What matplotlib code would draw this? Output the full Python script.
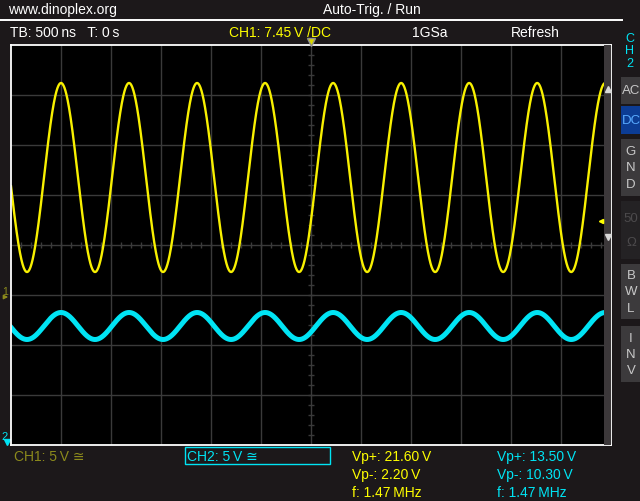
import numpy as np
import matplotlib.pyplot as plt
from matplotlib.patches import Rectangle

plt.rcParams['font.family'] = ['Liberation Sans', 'DejaVu Sans']

W, H = 640, 502
BG = '#1c181a'
YEL = '#ffff00'
CYAN = '#00e4f4'
OLIVE = '#8c8a1c'
GRIDC = '#3a3a3a'

# scope settings
time_per_div = 500e-9
volts_per_div = [5.0, 5.0]
n_xdiv, n_ydiv = 12, 8
trig_level = 7.45
ch_ground = [-1.0, -4.0]      # ground marker position, divisions

# signal shape estimated from the traces
freq = 1.47e6
ch_mean = [11.75, 11.9]
ch_amp = [9.45, 1.35]

header_left = 'www.dinoplex.org'
header_mid = 'Auto-Trig. / Run'
status = ['TB: 500\u2009ns   T: 0\u2009s', 'CH1: 7.45\u2009V /DC', '1GSa', 'Refresh']
status_x = [10, 229, 412, 511]
ch_labels = ['CH1: 5\u2009V \u2245', 'CH2: 5\u2009V \u2245']
ch1_meas = ['Vp+: 21.60\u2009V', 'Vp-: 2.20\u2009V', 'f: 1.47\u2009MHz']
ch2_meas = ['Vp+: 13.50\u2009V', 'Vp-: 10.30\u2009V', 'f: 1.47\u2009MHz']
buttons = [['A C'], ['D C'], ['G', 'N', 'D'], ['50', '\u03a9'], ['B', 'W', 'L'], ['I', 'N', 'V']]
button_y = [(78, 105), (107, 135), (140, 197), (202, 260), (265, 320), (327, 383)]

fig = plt.figure(figsize=(W / 100, H / 100), dpi=100)
fig.patch.set_facecolor(BG)

# pixel-coordinate layer for the frame texts
bg = fig.add_axes([0, 0, 1, 1])
bg.set_xlim(0, W)
bg.set_ylim(H, 0)
bg.axis('off')
bg.set_zorder(0)

bg.text(8, 14, header_left, color='white', fontsize=10, va='baseline')
bg.text(372, 14, header_mid, color='white', fontsize=10, va='baseline', ha='center')
bg.plot([0, 622], [20.5, 20.5], color='white', lw=1.4)
for s, x0 in zip(status, status_x):
    col = YEL if s.startswith('CH1') else 'white'
    bg.text(x0, 37, s, color=col, fontsize=10, va='baseline')

# CH2 side panel
for i, ch in enumerate('CH2'):
    bg.text(630, 42 + 12.5 * i, ch, color=CYAN, fontsize=9, ha='center', va='baseline')
for lab, (y0, y1) in zip(buttons, button_y):
    name = ''.join(lab).replace(' ', '')
    if name == 'DC':
        fc, tc = '#0c3c94', '#58aaff'
    elif name == '50\u03a9':
        fc, tc = '#242224', '#4c4a4c'
    else:
        fc, tc = '#3c3a3c', '#c8c8c8'
    bg.add_patch(Rectangle((621, y0), 19, y1 - y0, facecolor=fc, edgecolor='none'))
    n = len(lab)
    step = (y1 - y0) / (n + 0.4)
    for k, t in enumerate(lab):
        yc = y0 + step * (k + 0.7)
        bg.text(631, yc, t.replace(' ', ''), color=tc, fontsize=9.5, ha='center', va='center')

# channel markers on the left
bg.text(2, 295, '1', color=OLIVE, fontsize=7.5, va='baseline')
bg.annotate('', xy=(11, 298), xytext=(1, 298),
            arrowprops=dict(arrowstyle='-|>', color=OLIVE, lw=1, mutation_scale=6))
bg.text(1, 440, '2', color=CYAN, fontsize=8, va='baseline')
bg.plot([7], [443], marker='v', color=CYAN, ms=4)

# bottom info area
bg.text(14, 461, ch_labels[0], color=OLIVE, fontsize=10, va='baseline')
bg.add_patch(Rectangle((184.5, 447.5), 145, 17, facecolor='none', edgecolor=CYAN, lw=1))
bg.text(187, 461, ch_labels[1], color=CYAN, fontsize=10, va='baseline')
for k, (a, b) in enumerate(zip(ch1_meas, ch2_meas)):
    yb = 461 + 18 * k
    bg.text(352, yb, a, color=YEL, fontsize=10, va='baseline')
    bg.text(497, yb, b, color=CYAN, fontsize=10, va='baseline')

# the scope screen
ax = fig.add_axes([11 / W, (H - 446) / H, 600 / W, 400 / H])
ax.set_zorder(1)
ax.set_facecolor('black')
ax.set_xlim(0, n_xdiv)
ax.set_ylim(-n_ydiv / 2, n_ydiv / 2)
ax.set_xticks([])
ax.set_yticks([])
for sp in ax.spines.values():
    sp.set_color('white')
    sp.set_linewidth(1.3)

for i in range(1, n_xdiv):
    ax.axvline(i, color=GRIDC, lw=1)
for j in range(-n_ydiv // 2 + 1, n_ydiv // 2):
    ax.axhline(j, color=GRIDC, lw=1)
tx = np.arange(0.2, n_xdiv, 0.2)
ax.vlines(tx, -0.06, 0.06, color=GRIDC, lw=1)
ty = np.arange(-n_ydiv / 2 + 0.2, n_ydiv / 2, 0.2)
ax.hlines(ty, n_xdiv / 2 - 0.06, n_xdiv / 2 + 0.06, color=GRIDC, lw=1)

t = np.linspace(0, n_xdiv * time_per_div, 3000)
t_trig = n_xdiv * time_per_div / 2
phi0 = np.arcsin((trig_level - ch_mean[0]) / ch_amp[0])
x = t / time_per_div
for c, col, lw in [(1, CYAN, 3.6), (0, '#f8f000', 1.7)]:
    v = ch_mean[c] + ch_amp[c] * np.sin(2 * np.pi * freq * (t - t_trig) + phi0)
    ax.plot(x, ch_ground[c] + v / volts_per_div[c], color=col, lw=lw)

# strip on the right edge with level markers
ax.add_patch(Rectangle((n_xdiv - 0.14, -4), 0.14, 8, facecolor='#3c383a', edgecolor='none', zorder=5))
ax.plot([n_xdiv - 0.07], [3.12], marker='^', color='#d8d8d8', ms=4, zorder=6)
ax.plot([n_xdiv - 0.07], [0.16], marker='v', color='#d8d8d8', ms=4, zorder=6)
ax.plot([n_xdiv - 0.2], [ch_ground[0] + trig_level / volts_per_div[0]], marker='<',
        color=YEL, ms=3, zorder=6)
# trigger position marker
ax.plot([n_xdiv / 2], [4.07], marker='v', color='#d8d800', mec='#909090', ms=6,
        clip_on=False, zorder=7)

fig.savefig('out.png', dpi=100, facecolor=BG)
